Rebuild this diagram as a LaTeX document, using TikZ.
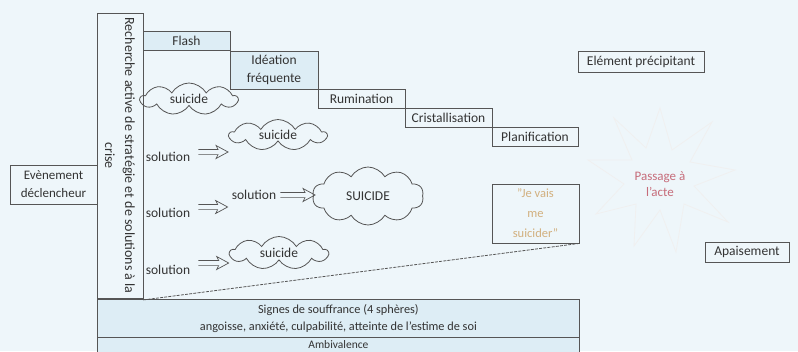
\documentclass[tikz,border=0pt]{standalone}
\usepackage{fontspec}
\setmainfont{Carlito}
\usetikzlibrary{shapes.symbols,calc}
\definecolor{bg}{HTML}{EEF6FA}
\definecolor{boxfill}{HTML}{DDEDF5}
\definecolor{ln}{HTML}{555555}
\definecolor{txt}{HTML}{333333}
\definecolor{tan}{HTML}{D2B07F}
\definecolor{pinkred}{HTML}{C66C7A}
\tikzset{
  box/.style={draw=ln, line width=0.8pt, text=txt, inner sep=1pt, align=center},
  cloudbox/.style={cloud, cloud puffs=9, cloud puff arc=120, draw=ln, line width=0.8pt, text=txt, inner sep=0pt, aspect=3},
  soltext/.style={text=txt, inner sep=1pt},
  imp/.style={draw=ln, line width=0.7pt, line join=miter,
    to path={let \p1=(\tikztostart), \p2=(\tikztotarget) in
      (\x1,\y1+2.6pt) -- (\x2-10pt,\y1+2.6pt) -- (\x2-12pt,\y1+6.5pt) -- (\x2,\y1) -- (\x2-12pt,\y1-6.5pt) -- (\x2-10pt,\y1-2.6pt) -- (\x1,\y1-2.6pt)}},
  dash line/.style={draw=ln, line width=0.8pt, dash pattern=on 3pt off 1.2pt},
}
\begin{document}
\begin{tikzpicture}[x=1pt,y=-1pt, font=\fontsize{13.5}{16}\selectfont]
\fill[bg] (0,0) rectangle (798,351);
\useasboundingbox (0,0) rectangle (798,351);
% faint starburst
\draw[black!6, line width=0.8pt] (660,108) -- (672,150) -- (712,122) -- (690,162) -- (735,170) -- (694,186) -- (728,222) -- (684,204) -- (676,252) -- (660,210) -- (634,246) -- (636,204) -- (596,214) -- (624,184) -- (588,160) -- (632,160) -- (614,118) -- (646,148) -- cycle;
% bottom boxes
\node[box, fill=boxfill, minimum width=482, minimum height=15, anchor=north west, font=\fontsize{11.5}{13}\selectfont] (amb) at (97,337) {Ambivalence};
\node[box, fill=boxfill, minimum width=482, minimum height=38, anchor=north west, font=\fontsize{12.3}{16.5}\selectfont] (sig) at (97,299) {Signes de souffrance (4 sphères)\\angoisse, anxiété, culpabilité, atteinte de l'estime de soi};
% left boxes
\node[box, minimum width=87, minimum height=39, font=\fontsize{13}{18}\selectfont] (even) at (53.5,184.5) {Evènement\\déclencheur};
\node[box, rotate=-90, minimum width=285, minimum height=46, font=\fontsize{14}{20}\selectfont] (rech) at (120,155.5) {Recherche active de stratégie et de solutions à la\\crise};
% steps
\node[box, fill=boxfill, minimum width=87, minimum height=19] (flash) at (186.5,41) {Flash};
\node[box, fill=boxfill, minimum width=88, minimum height=38, font=\fontsize{13.5}{18}\selectfont] (idea) at (274,70) {Idéation\\fréquente};
\node[box, minimum width=87, minimum height=19] (rum) at (361.5,98.5) {Rumination};
\node[box, minimum width=87, minimum height=19] (crist) at (448.5,117.5) {Cristallisation};
\node[box, minimum width=86, minimum height=19] (plan) at (535,136.5) {Planification};
\node[box, minimum width=126, minimum height=21] (elem) at (641,61.5) {Elément précipitant};
\node[box, minimum width=84, minimum height=20] (apai) at (747,252) {Apaisement};
\node[box, minimum width=87, minimum height=59, text=tan, font=\fontsize{12.5}{20}\selectfont] (jev) at (535.5,213.5) {"Je vais\\me\\suicider"};
\node[text=pinkred, align=center, font=\fontsize{13}{16}\selectfont] (pass) at (660,184) {Passage à\\l'acte};
% clouds
\node[cloudbox, minimum width=97, minimum height=32] (cl1) at (189,99) {suicide};
\node[cloudbox, minimum width=97, minimum height=31] (cl2) at (278,135) {suicide};
\node[cloudbox, minimum width=111, minimum height=58, cloud puffs=10] (cl3) at (368,196) {SUICIDE};
\node[cloudbox, minimum width=98, minimum height=33] (cl4) at (279,253) {suicide};
% solutions
\node[soltext] (sol1) at (168,157) {solution};
\node[soltext] (sol2) at (168,213) {solution};
\node[soltext] (sol3) at (168,270) {solution};
\node[soltext] (solm) at (254,195) {solution};
\draw[imp] ([xshift=7pt,yshift=5pt]sol1.east) to ([yshift=5pt]sol1.east -| cl2.west);
\draw[imp] ([xshift=7pt,yshift=6pt]sol2.east) to ([xshift=-3pt,yshift=6pt]sol2.east -| solm.west);
\draw[imp] ([xshift=3pt]solm.east) to ([xshift=2pt]solm.east -| cl3.west);
\draw[imp] ([xshift=7pt,yshift=7pt]sol3.east) to ([yshift=7pt]sol3.east -| cl4.west);
% dashed slope
\draw[dash line] ([yshift=-1.5pt]rech.north east) -- (jev.south east);
\end{tikzpicture}
\end{document}
